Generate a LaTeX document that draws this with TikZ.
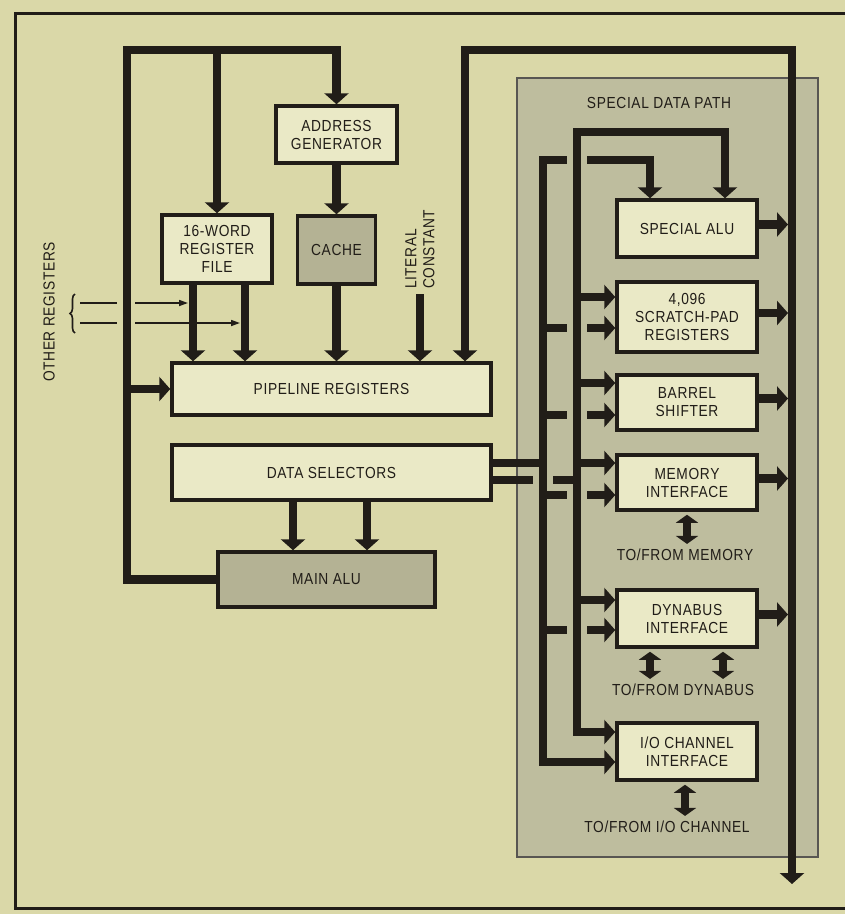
\documentclass[tikz,border=0pt]{standalone}
\usepackage{fontspec}
\setmainfont{Liberation Sans}[FakeStretch=0.86,LetterSpace=4]
\usetikzlibrary{arrows.meta,decorations.pathreplacing}

\definecolor{paper}{RGB}{218,216,168}
\definecolor{sdpgray}{RGB}{190,189,158}
\definecolor{boxfill}{RGB}{234,233,198}
\definecolor{alugray}{RGB}{180,178,148}
\definecolor{ink}{RGB}{33,29,24}

\begin{document}
\begin{tikzpicture}[x=1pt,y=-1pt,
        >={Triangle[width=24pt,length=11pt]},
        bus/.style={draw=ink,line width=8.5pt},
        twoway/.style={draw=ink,line width=8.5pt,
            {Triangle[width=22pt,length=8pt]}-{Triangle[width=22pt,length=8pt]},
            shorten <=3pt,shorten >=5pt},
        feed/.style={draw=ink,line width=1.6pt},
        block/.style={draw=ink,line width=3.5pt,fill=boxfill,align=center,
            font=\fontsize{16}{18}\selectfont,text=ink,inner sep=0pt},
        greyblock/.style={block,fill=alugray},
        lbl/.style={font=\fontsize{16}{18}\selectfont,text=ink,inner sep=0pt}]
    \useasboundingbox (0,0) rectangle (845,914);
    \fill[paper] (0,0) rectangle (845,914);

    % frame
    \draw[ink,line width=3pt] (845,13) -| (15,908) -- (845,908);

    % special data path
    \node[draw=ink!75,line width=2pt,fill=sdpgray,minimum width=301pt,
        minimum height=779pt,inner sep=0pt] (sdp) at (667.5,467.5) {};
    \node[lbl] (sdptitle) at (659,103) {SPECIAL DATA PATH};

    % main data path blocks
    \node[block,minimum width=121pt,minimum height=57pt] (addrgen) at (336.5,134.5) {ADDRESS\\GENERATOR};
    \node[block,minimum width=110pt,minimum height=68pt] (regfile) at (217,249) {16-WORD\\REGISTER\\FILE};
    \node[greyblock,minimum width=78pt,minimum height=68pt] (cache) at (336.5,250) {CACHE};
    \node[block,minimum width=319pt,minimum height=52pt] (pipeline) at (331.5,389) {PIPELINE REGISTERS};
    \node[block,minimum width=319pt,minimum height=55pt] (datasel) at (331.5,472.5) {DATA SELECTORS};
    \node[greyblock,minimum width=217pt,minimum height=55pt] (mainalu) at (326.5,579.5) {MAIN ALU};

    % special data path blocks
    \node[block,minimum width=140pt,minimum height=57pt] (specalu) at (687,228.5) {SPECIAL ALU};
    \node[block,minimum width=140pt,minimum height=70pt] (scratch) at (687,317) {4,096\\SCRATCH-PAD\\REGISTERS};
    \node[block,minimum width=140pt,minimum height=55pt] (barrel) at (687,402.5) {BARREL\\SHIFTER};
    \node[block,minimum width=140pt,minimum height=55pt] (meminf) at (687,482.5) {MEMORY\\INTERFACE};
    \node[block,minimum width=140pt,minimum height=57pt] (dynabus) at (687,618.5) {DYNABUS\\INTERFACE};
    \node[block,minimum width=140pt,minimum height=57pt] (iochan) at (687,751.5) {I/O CHANNEL\\INTERFACE};

    % outside labels
    \node[lbl] (memlbl) at (685,555) {TO/FROM MEMORY};
    \node[lbl] (dynlbl) at (683,690) {TO/FROM DYNABUS};
    \node[lbl] (iolbl) at (667,827) {TO/FROM I/O CHANNEL};
    \node[lbl,rotate=90] (otherregs) at (49,312) {OTHER REGISTERS};
    \node[lbl,rotate=90,align=left,anchor=west] (literal) at (420,289) {LITERAL\\CONSTANT};

    % bus corners and gaps
    \coordinate (atop) at (127,50);
    \coordinate (btop) at (465,50);
    \coordinate (bcorner) at (792,50);
    \coordinate (bbot) at (792,884);
    \coordinate (bleft) at (788,0);
    \coordinate (ctop) at (577,132);
    \coordinate (dtop) at (543,160);
    \coordinate (gapl) at (567,0);
    \coordinate (gapr) at (587,0);
    \coordinate (dgapl) at (533,0);
    \coordinate (dgapr) at (553,0);
    \coordinate (rf1) at (193,0);
    \coordinate (rf2) at (245,0);
    \coordinate (ds1) at (293,0);
    \coordinate (ds2) at (367,0);

    % other registers
    \draw[feed,decorate,decoration={brace,amplitude=5pt}] (75,333) -- (75,294);
    \draw[feed] (80,303) -- (117,303);
    \draw[feed] (80,323) -- (117,323);
    \draw[feed,-{Triangle[width=6pt,length=9pt]},shorten >=5pt] (135,303) -- (rf1 |- 0,303);
    \draw[feed,-{Triangle[width=6pt,length=9pt]},shorten >=5pt] (135,323) -- (rf2 |- 0,323);

    % main alu loop
    \draw[bus,->] (mainalu.west) -| (atop) -| (addrgen.north);
    \draw[bus,->] (atop -| regfile.north) -- (regfile.north);
    \draw[bus,->] (atop |- pipeline.west) -- (pipeline.west);
    \draw[bus,->] (addrgen.south) -- (cache.north);

    % into pipeline
    \draw[bus,->] (regfile.south -| rf1) -- (pipeline.north -| rf1);
    \draw[bus,->] (regfile.south -| rf2) -- (pipeline.north -| rf2);
    \draw[bus,->] (cache.south) -- (cache.south |- pipeline.north);
    \draw[bus,->,shorten <=5pt] (literal.west) -- (literal.west |- pipeline.north);
    \draw[bus,<->] (btop |- pipeline.north) -- (btop) -- (bcorner) -- (bbot);

    % data selectors
    \draw[bus,->] (datasel.south -| ds1) -- (mainalu.north -| ds1);
    \draw[bus,->] (datasel.south -| ds2) -- (mainalu.north -| ds2);
    \draw[bus] (datasel.east |- 0,463) -- (dtop |- 0,463);
    \draw[bus] (datasel.east |- 0,480) -- (dgapl |- 0,480);
    \draw[bus] (dgapr |- 0,480) -- (ctop |- 0,480);

    % bus D
    \draw[bus,<-] (iochan.west |- 0,762) -| (dtop) -- (gapl |- dtop);
    \draw[bus,->] (gapr |- dtop) -| (specalu.north -| 650,0);
    \foreach \b/\y in {scratch/328,barrel/415,meminf/495,dynabus/630} {
        \draw[bus] (dtop |- 0,\y) -- (gapl |- 0,\y);
        \draw[bus,->] (gapr |- 0,\y) -- (\b.west |- 0,\y);
    }

    % bus C
    \draw[bus,<->] (iochan.west |- 0,732) -| (ctop) -| (specalu.north -| 725,0);
    \foreach \b/\y in {scratch/297,barrel/383,meminf/463,dynabus/600}
        \draw[bus,->] (ctop |- 0,\y) -- (\b.west |- 0,\y);

    % results to bus
    \foreach \b in {specalu,scratch,barrel,meminf,dynabus} {
        \coordinate (\b-out) at ([yshift=4pt]\b.east);
        \draw[bus,->] (\b-out) -- (\b-out -| bleft);
    }

    % to/from
    \draw[twoway] (meminf.south) -- (memlbl.north -| meminf.south);
    \draw[twoway] (dynabus.south -| 650,0) -- (dynlbl.north -| 650,0);
    \draw[twoway] (dynabus.south -| 723,0) -- (dynlbl.north -| 723,0);
    \draw[twoway] (iochan.south -| 685,0) -- (iolbl.north -| 685,0);
\end{tikzpicture}
\end{document}
